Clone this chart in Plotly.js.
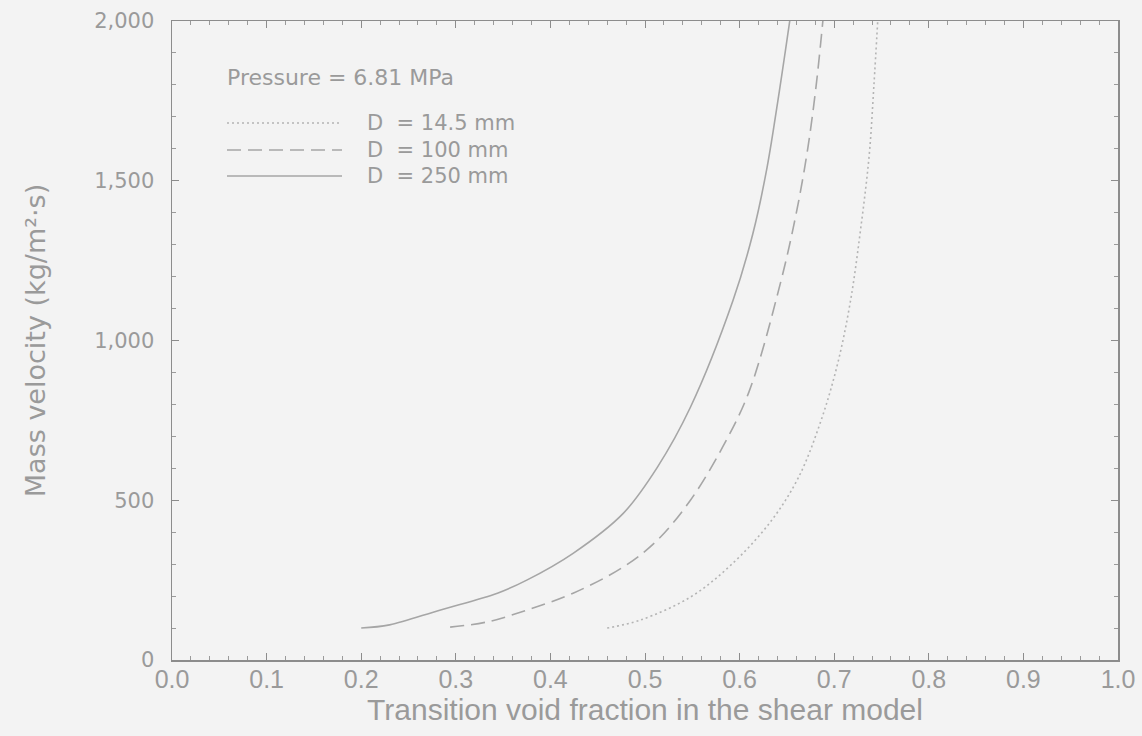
<!DOCTYPE html>
<html>
<head>
<meta charset="utf-8">
<script src="https://cdn.plot.ly/plotly-3.0.1.min.js"></script>
<style>html,body{margin:0;padding:0;background:#f3f3f3;}#chart{width:1142px;height:736px;}</style>
</head>
<body>
<div id="chart"></div>
<script>
// D = 14.5 mm (dotted)
const x145 = [0.46, 0.495, 0.548, 0.59, 0.632, 0.662, 0.685, 0.703, 0.717, 0.728, 0.737, 0.742, 0.746];
const g145 = [100, 125, 197, 295, 430, 570, 740, 920, 1120, 1350, 1580, 1800, 2000];
// D = 100 mm (dashed)
const x100 = [0.294, 0.333, 0.375, 0.424, 0.477, 0.513, 0.548, 0.582, 0.61, 0.643, 0.660, 0.672, 0.681, 0.688];
const g100 = [103, 119, 156, 209, 291, 375, 500, 666, 840, 1178, 1400, 1600, 1800, 2000];
// D = 250 mm (solid)
const x250 = [0.20, 0.23, 0.283, 0.344, 0.375, 0.424, 0.477, 0.513, 0.548, 0.593, 0.614, 0.629, 0.642, 0.653];
const g250 = [100, 110, 156, 209, 250, 334, 459, 603, 791, 1125, 1334, 1541, 1780, 2000];

const seriesNames = ["D  = 14.5 mm", "D  = 100 mm", "D  = 250 mm"];
const pressureLabel = "Pressure = 6.81 MPa";
const xTickVals = [0, 0.1, 0.2, 0.3, 0.4, 0.5, 0.6, 0.7, 0.8, 0.9, 1.0];
const yTickVals = [0, 500, 1000, 1500, 2000];

const lineColor = "#a6a6a6";
const txtColor = "#9a9a9a";
const bg = "#f3f3f3";

const traces = [
  {x: x145, y: g145, mode: "lines", line: {color: "#b4b4b4", width: 1.6, dash: "2px,3px", shape: "spline"}, name: seriesNames[0]},
  {x: x100, y: g100, mode: "lines", line: {color: lineColor, width: 1.6, dash: "14px,7px", shape: "spline"}, name: seriesNames[1]},
  {x: x250, y: g250, mode: "lines", line: {color: lineColor, width: 1.6, shape: "spline"}, name: seriesNames[2]}
];

// legend samples (paper coords): plot area spans x 172..1118, y 21..660
function px2paperX(p){return (p-172)/(1118-172);}
function px2paperY(p){return (660-p)/(660-21);}
const legY = [123, 150, 176];
const dashes = ["2px,3px", "14px,7px", "solid"];
const shapes = legY.map((yy,i)=>({type:"line", xref:"paper", yref:"paper",
  x0:px2paperX(227), x1:px2paperX(342), y0:px2paperY(yy), y1:px2paperY(yy),
  line:{color: i===0?"#b4b4b4":lineColor, width:1.6, dash:dashes[i]}}));
const legFont = "DejaVu Sans, Verdana, sans-serif";
const annotations = [
  {xref:"paper", yref:"paper", x:px2paperX(225), y:px2paperY(77), xanchor:"left", yanchor:"middle",
   text: pressureLabel, showarrow:false, font:{family:legFont, size:22, color:txtColor}}
].concat(legY.map((yy,i)=>({xref:"paper", yref:"paper", x:px2paperX(365), y:px2paperY(yy), xanchor:"left", yanchor:"middle",
   text: seriesNames[i], showarrow:false, font:{family:legFont, size:21, color:txtColor}})));

const layout = {
  width: 1142, height: 736,
  margin: {l: 172, r: 24, t: 21, b: 76},
  paper_bgcolor: bg, plot_bgcolor: bg,
  showlegend: false,
  xaxis: {
    range: [0, 1], tickvals: xTickVals, tickformat: ".1f",
    showgrid: false, zeroline: false,
    showline: true, linecolor: "#8c8c8c", linewidth: 1.5, mirror: "allticks",
    ticks: "inside", ticklen: 7, tickcolor: "#8c8c8c",
    minor: {dtick: 0.02, ticks: "inside", ticklen: 4, tickcolor: "#9a9a9a", showgrid: false},
    tickfont: {family: "Liberation Sans, Arial, sans-serif", size: 25, color: txtColor},
    ticklabelstandoff: -4,
    title: {text: "Transition void fraction in the shear model", standoff: 4,
      font: {family: "Liberation Sans, Arial, sans-serif", size: 30, color: txtColor}}
  },
  yaxis: {
    range: [0, 2000], tickvals: yTickVals, tickformat: ",",
    showgrid: false, zeroline: false,
    showline: true, linecolor: "#8c8c8c", linewidth: 1.5, mirror: "allticks",
    ticks: "inside", ticklen: 7, tickcolor: "#8c8c8c",
    minor: {dtick: 100, ticks: "inside", ticklen: 4, tickcolor: "#9a9a9a", showgrid: false},
    tickfont: {family: "DejaVu Sans, Verdana, sans-serif", size: 21, color: txtColor},
    ticklabelstandoff: 12,
    title: {text: "Mass velocity (kg/m²·s)", standoff: 40,
      font: {family: "DejaVu Sans, Verdana, sans-serif", size: 27, color: txtColor}}
  },
  shapes: shapes,
  annotations: annotations
};

Plotly.newPlot("chart", traces, layout, {staticPlot: true, displayModeBar: false});
</script>
</body>
</html>
